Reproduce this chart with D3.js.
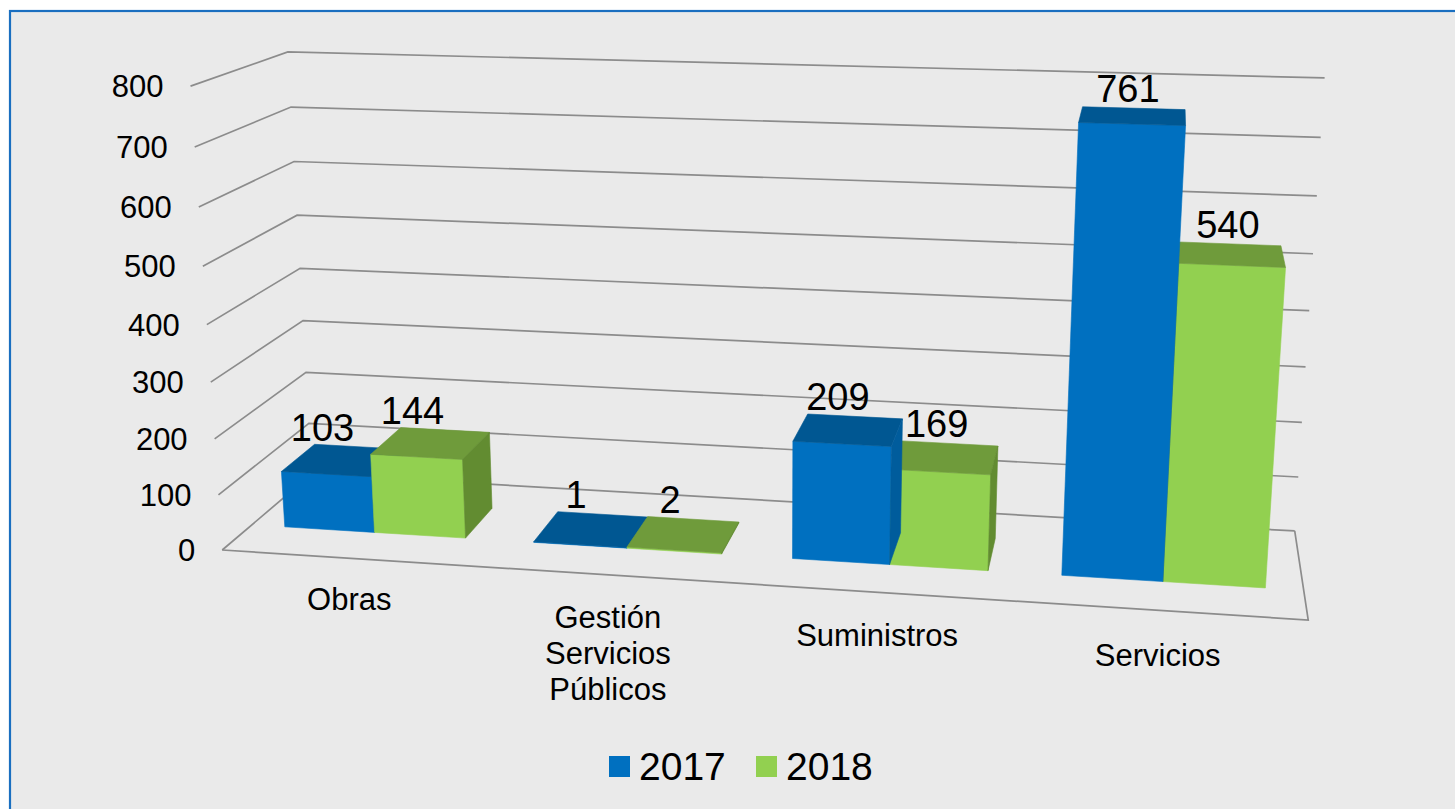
<!DOCTYPE html>
<html><head><meta charset="utf-8">
<script src="https://cdn.jsdelivr.net/npm/d3@7"></script>
<style>
body{margin:0;background:#fff;}
svg{display:block;}
text{font-family:Arial,"Liberation Sans",sans-serif;fill:#000;}
</style>
</head><body>
<svg id="chart" width="1455" height="809"></svg>
<script>
// ---- data ----
const categories = ["Obras", "Gestión Servicios Públicos", "Suministros", "Servicios"];
const seriesNames = ["2017", "2018"];
const values2017 = [103, 1, 209, 761];
const values2018 = [144, 2, 169, 540];
const yTicks = [0, 100, 200, 300, 400, 500, 600, 700, 800];

// ---- styles ----
const seriesColors = [
  {front: "#0070c0", top: "#005792", side: "#005c9c"},
  {front: "#92d050", top: "#6f9b3b", side: "#628c31"}
];
const gridColor = "#8c8c8c";

// ---- 3D frame calibration (world: X 0..4 categories, Y 0..8 hundreds, Z 0 front .. 1 back) ----
const frameRefs = [
  [0,8,0,190,86],[0,7,0,195,147],[0,6,0,199,207],[0,5,0,203,266],[0,4,0,207,325],
  [0,3,0,211,382],[0,2,0,214,439],[0,1,0,219,495],[0,0,0,222,550],
  [0,8,1,288,52],[0,7,1,291,107],[0,6,1,294,162],[0,5,1,297,215],[0,4,1,300,268],
  [0,3,1,303,321],[0,2,1,306,372],
  [4,8,1,1324,78],[4,7,1,1321,137],[4,6,1,1317,196],[4,5,1,1313,254],[4,4,1,1309,311],
  [4,3,1,1306,367],[4,2,1,1302,422],[4,1,1,1299,477],[4,0,1,1294,531],
  [4,0,0,1308,620]
];

function solveLinear(A, b) {
  const n = b.length;
  const M = A.map((r, i) => r.concat([b[i]]));
  for (let c = 0; c < n; c++) {
    let p = c;
    for (let r = c + 1; r < n; r++) if (Math.abs(M[r][c]) > Math.abs(M[p][c])) p = r;
    [M[c], M[p]] = [M[p], M[c]];
    for (let r = 0; r < n; r++) {
      if (r === c) continue;
      const f = M[r][c] / M[c][c];
      for (let k = c; k <= n; k++) M[r][k] -= f * M[c][k];
    }
  }
  return M.map((r, i) => r[n] / r[i]);
}

const U0 = 700, US = 500, V0 = 330, VS = 300;
function fitProjection(refs) {
  const n = 11;
  const AtA = Array.from({length: n}, () => new Array(n).fill(0));
  const Atb = new Array(n).fill(0);
  function add(row, rhs) {
    for (let i = 0; i < n; i++) {
      Atb[i] += row[i] * rhs;
      for (let j = 0; j < n; j++) AtA[i][j] += row[i] * row[j];
    }
  }
  refs.forEach(([X, Y, Z, u0, v0]) => {
    const u = (u0 - U0) / US, v = (v0 - V0) / VS;
    add([X, Y, Z, 1, 0, 0, 0, 0, -u * X, -u * Y, -u * Z], u);
    add([0, 0, 0, 0, X, Y, Z, 1, -v * X, -v * Y, -v * Z], v);
  });
  return solveLinear(AtA, Atb);
}
const P = fitProjection(frameRefs);
function project(X, Y, Z) {
  const w = P[8] * X + P[9] * Y + P[10] * Z + 1;
  const u = (P[0] * X + P[1] * Y + P[2] * Z + P[3]) / w;
  const v = (P[4] * X + P[5] * Y + P[6] * Z + P[7]) / w;
  return [u * US + U0, v * VS + V0];
}
// camera centre
const cam = solveLinear(
  [[P[0], P[1], P[2]], [P[4], P[5], P[6]], [P[8], P[9], P[10]]],
  [-P[3], -P[7], -1]
);

// ---- scales ----
const xBand = d3.scaleBand().domain(categories).range([0, 4]).paddingInner(0.27).paddingOuter(0.135);
const xSeries = d3.scaleBand().domain(seriesNames).range([0, xBand.bandwidth()]);
const yScale = d3.scaleLinear().domain([0, 800]).range([0, 8]);
const zFront = 0.31, zBack = 0.69;

const svg = d3.select("#chart");
svg.append("rect").attr("x", 10).attr("y", 11).attr("width", 1470).attr("height", 820)
  .attr("fill", "#eaeaea").attr("stroke", "#1a6fc0").attr("stroke-width", 2.2);

const line = d3.line();
const gGrid = svg.append("g").attr("fill", "none").attr("stroke", gridColor).attr("stroke-width", 1.7);
yTicks.forEach(t => {
  const Y = yScale(t);
  gGrid.append("path").attr("d", line([project(0, Y, 0), project(0, Y, 1), project(4, Y, 1)]));
});
gGrid.append("path").attr("d", line([project(0, 0, 0), project(4, 0, 0), project(4, 0, 1)]));

// y-axis labels
svg.append("g").selectAll("text").data(yTicks).join("text")
  .attr("x", d => project(0, yScale(d), 0)[0] - 27)
  .attr("y", d => project(0, yScale(d), 0)[1] + 11)
  .attr("text-anchor", "end").attr("font-size", 31).text(d => d);

// ---- bars ----
const bars = [];
categories.forEach((c, i) => {
  [values2017[i], values2018[i]].forEach((v, s) => {
    const x0 = xBand(c) + xSeries(seriesNames[s]);
    const x1 = x0 + xSeries.bandwidth();
    bars.push({c, s, v, x0, x1, y1: yScale(v)});
  });
});
bars.forEach(b => {
  const cx = (b.x0 + b.x1) / 2, cz = (zFront + zBack) / 2;
  b.dist = Math.hypot(cx - cam[0], b.y1 / 2 - cam[1], cz - cam[2]);
});
bars.sort((a, b) => b.dist - a.dist);

const gBars = svg.append("g");
bars.forEach(b => {
  const {x0, x1, y1} = b;
  const col = seriesColors[b.s];
  const faces = [];
  if (cam[2] < zFront) faces.push({pts: [[x0,0,zFront],[x1,0,zFront],[x1,y1,zFront],[x0,y1,zFront]], fill: col.front});
  if (cam[1] > y1) faces.push({pts: [[x0,y1,zFront],[x1,y1,zFront],[x1,y1,zBack],[x0,y1,zBack]], fill: col.top});
  if (cam[0] > x1) faces.push({pts: [[x1,0,zFront],[x1,0,zBack],[x1,y1,zBack],[x1,y1,zFront]], fill: col.side});
  if (cam[0] < x0) faces.push({pts: [[x0,0,zFront],[x0,0,zBack],[x0,y1,zBack],[x0,y1,zFront]], fill: col.side});
  faces.forEach(f => {
    gBars.append("path")
      .attr("d", line(f.pts.map(p => project(p[0], p[1], p[2]))) + "Z")
      .attr("fill", f.fill).attr("stroke", f.fill).attr("stroke-width", 0.6);
  });
});

// data labels
const gLab = svg.append("g");
bars.forEach(b => {
  const cx = (b.x0 + b.x1) / 2;
  const front = project(cx, b.y1, zFront);
  const back = project(cx, b.y1, zBack);
  gLab.append("text").attr("x", front[0] - 4).attr("y", back[1] - 6)
    .attr("text-anchor", "middle").attr("font-size", 38).text(b.v);
});

// category labels
const gCat = svg.append("g");
categories.forEach(c => {
  const X = xBand(c) + xBand.bandwidth() / 2;
  const p = project(X, -0.95, 0);
  const lines = c.length > 14 ? c.split(" ") : [c];
  const t = gCat.append("text").attr("text-anchor", "middle").attr("font-size", 31);
  lines.forEach((l, k) => t.append("tspan").attr("x", p[0] - 2).attr("y", p[1] + k * 36).text(l));
});

// legend
const legend = svg.append("g");
const legendX = [609, 756];
seriesNames.forEach((s, i) => {
  legend.append("rect").attr("x", legendX[i]).attr("y", 756).attr("width", 21).attr("height", 21)
    .attr("fill", seriesColors[i].front);
  legend.append("text").attr("x", legendX[i] + 30).attr("y", 780).attr("font-size", 39).text(s);
});
</script>
</body></html>
